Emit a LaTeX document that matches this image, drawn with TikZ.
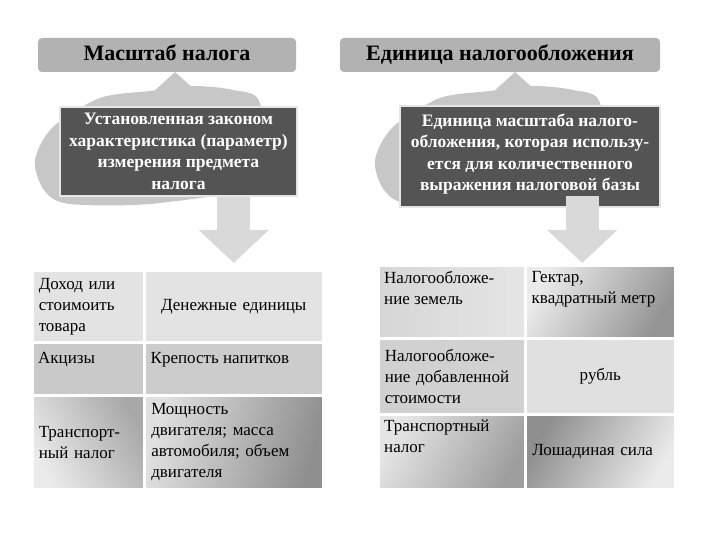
\documentclass[tikz,border=0pt]{standalone}
\usepackage{fontspec}
\setmainfont{Liberation Serif}
\usetikzlibrary{positioning,arrows.meta}

\begin{document}
\begin{tikzpicture}[x=1pt,y=-1pt,
    hdr/.style={fill=black!30,rounded corners=4pt,minimum height=34pt,
      text height=15pt,text depth=4pt,
      font=\bfseries\fontsize{22}{26}\selectfont},
    dark/.style={fill=black!67,draw=black!10,line width=1.2pt,text=white,
      align=center,font=\bfseries\fontsize{17.5}{21.5}\selectfont},
    blob/.style={fill=black!22},
    bigarrow/.style={draw=black!15,line width=33pt,
      -{Triangle[width=68pt,length=33pt]}},
    cell/.style={draw=white,line width=1.5pt,inner xsep=6pt,inner ysep=5pt,align=left,
      font=\fontsize{17}{21}\selectfont,anchor=north west},
    topl/.style={anchor=north west,inner xsep=6pt,inner ysep=6pt,align=left,
      font=\fontsize{17}{21}\selectfont},
    g/.style 2 args={left color=#1,right color=#2}]
  \useasboundingbox (0,0) rectangle (720,540);

  % grey clouds behind the definitions
  \foreach \dx in {0,340} {
    \begin{scope}[xshift=\dx]
      \fill[blob] (175,72) -- (195,90) -- (150,95) -- cycle;
      \fill[blob] plot[smooth cycle] coordinates {(100,98) (150,91) (192,86)
        (233,90) (260,103) (262,180) (160,203) (70,204) (44,190) (35,160)
        (53,127)};
    \end{scope}
  }

  \node[hdr,minimum width=258pt] (h_1) at (167,55) {Масштаб налога};
  \node[hdr,minimum width=320pt] (h_2) at (500,55) {Единица налогообложения};

  \node[dark,minimum width=237pt,minimum height=89pt] (d_1) at (178.5,151.5)
    {Установленная законом\\характеристика (параметр)\\измерения предмета\\налога};
  \node[dark,minimum width=260pt,minimum height=101pt,text depth=9pt] (d_2) at (530,156.5)
    {Единица масштаба налого-\\обложения, которая использу-\\ется для количественного\\выражения налоговой базы};

  % left table
  \node[cell,g={black!11}{black!11},text width=99pt,minimum height=71pt] (s_11) at (32,270)
    {Доход или\\стоимоить\\товара};
  \node[cell,g={black!11}{black!11},text width=165pt,minimum height=71pt,align=center,
    right=0pt of s_11] (s_12) {Денежные единицы\hspace*{12pt}};
  \node[cell,g={black!21}{black!21},minimum width=111pt,minimum height=51pt,
    below=0pt of s_11.south west,anchor=north west,
    label={[topl,inner ysep=10pt]north west:Акцизы}] (s_21) {};
  \node[cell,g={black!20}{black!20},minimum width=177pt,minimum height=51pt,
    right=0pt of s_21,label={[topl,inner ysep=10pt]north west:Крепость напитков}] (s_22) {};
  \node[cell,g={black!8}{black!34},shading angle=120,text width=99pt,minimum height=93pt,
    below=0pt of s_21.south west,anchor=north west] (s_31) {Транспорт-\\ный налог};
  \node[cell,g={black!12}{black!44},shading angle=75,text width=165pt,minimum height=93pt,
    right=0pt of s_31] (s_32) {Мощность\\двигателя; масса\\автомобиля; объем\\двигателя};

  % right table
  \node[cell,g={black!16}{black!10},minimum width=146pt,minimum height=72pt,
    label={[topl]north west:Налогообложе-\\ние земель}] (u_11) at (378,265) {};
  \node[cell,g={black!8}{black!42},shading angle=60,minimum width=148pt,minimum height=72pt,
    right=0pt of u_11,label={[topl]north west:Гектар,\\квадратный метр}] (u_12) {};
  \node[cell,g={black!18}{black!18},text width=134pt,minimum height=74pt,
    below=0pt of u_11.south west,anchor=north west] (u_21)
    {Налогообложе-\\ние добавленной\\стоимости};
  \node[cell,g={black!12}{black!12},text width=136pt,minimum height=74pt,align=center,
    right=0pt of u_21] (u_22) {рубль};
  \node[cell,g={black!10}{black!38},shading angle=60,minimum width=146pt,minimum height=74pt,
    below=0pt of u_21.south west,anchor=north west,
    label={[topl]north west:Транспортный\\налог}] (u_31) {};
  \node[cell,g={black!44}{black!8},shading angle=60,text width=136pt,minimum height=74pt,
    right=0pt of u_31] (u_32) {Лошадиная сила};

  % arrows down to the tables
  \coordinate (a_2) at ([xshift=-18pt]u_12.north);
  \draw[bigarrow,shorten >=7pt] (d_1.south -| s_12.north) -- (s_12.north);
  \draw[bigarrow,shorten >=2pt] ([yshift=12pt]d_2.south -| a_2) -- (a_2);
\end{tikzpicture}
\end{document}
